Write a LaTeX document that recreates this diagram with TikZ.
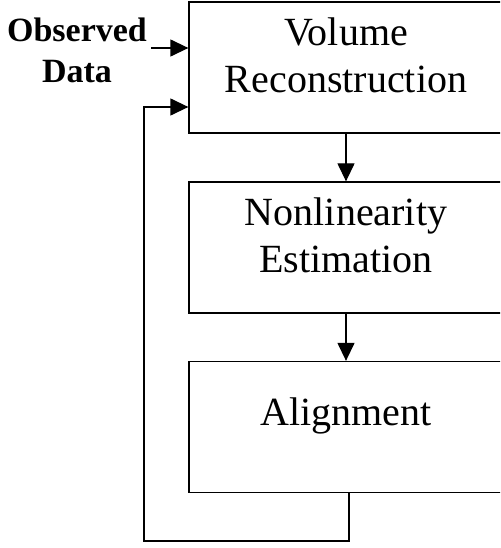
\documentclass[tikz,border=0pt]{standalone}
\usepackage{fontspec}
\setmainfont{Liberation Serif}
\usepackage{tikz}
\usetikzlibrary{arrows.meta,positioning}

\tikzset{
    stagebox/.style={draw,line width=1.3pt,inner sep=0pt,minimum width=314pt,minimum height=131pt},
    stagetext/.style={inner sep=0pt,align=center,font=\fontsize{40}{47}\selectfont},
    flow/.style={line width=1.3pt,-{Triangle[length=18pt,width=17pt]}}
}

\begin{document}
\begin{tikzpicture}[x=1pt,y=-1pt]
            \clip (0,0) rectangle (500,548);
            \fill[white] (0,0) rectangle (500,548);

            \node[stagebox] (vr) at (346,67.5) {};
            \node[stagebox] (ne) at (346,247.5) {};
            \node[stagebox] (al) at (346,427) {};

            \node[stagetext,below=15.7pt of vr.north] (vrtext) {Volume\\Reconstruction};
            \node[stagetext,below=15.7pt of ne.north] (netext) {Nonlinearity\\Estimation};
            \node[stagetext,below=36.7pt of al.north] (altext) {Alignment};

            \node[anchor=north,inner sep=0pt,align=center,font=\bfseries\fontsize{34}{41}\selectfont] (obs) at (77,17.5) {Observed\\Data};
            \coordinate (obsin) at (151,48);
            \coordinate (fbturn) at (144,541);

            \draw[flow] (obsin) -- (obsin -| vr.west);
            \draw[flow] (vr.south) -- (ne.north);
            \draw[flow] (ne.south) -- (al.north);
            \draw[flow] ([xshift=3pt]al.south) |- (fbturn) |- ([yshift=-39.5pt]vr.west);
        \end{tikzpicture}
\end{document}
